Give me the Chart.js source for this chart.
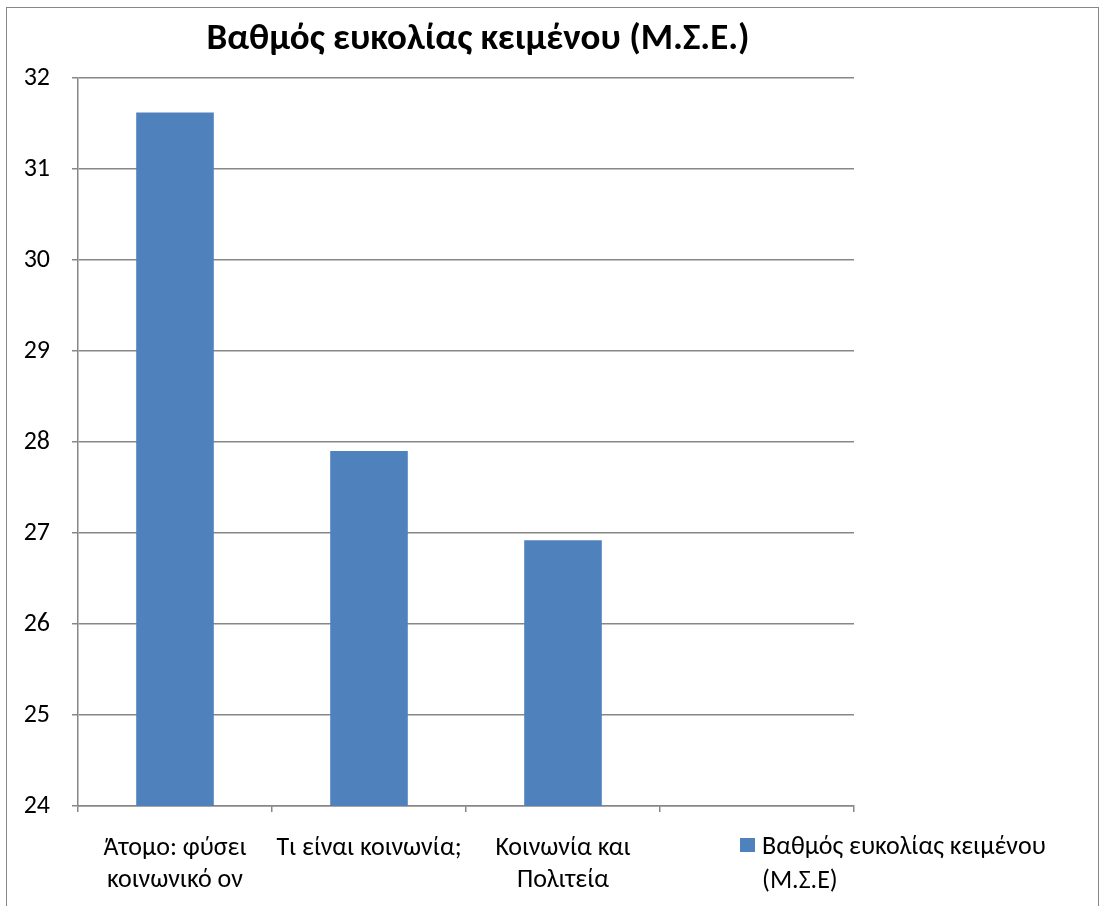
<!DOCTYPE html>
<html>
<head>
<meta charset="utf-8">
<script src="https://cdn.jsdelivr.net/npm/chart.js@4"></script>
<style>
  html, body { margin: 0; padding: 0; background: #fff; overflow: hidden; }
  #wrap { position: relative; width: 1102px; height: 906px; }
  #frame { position: absolute; left: 6px; top: 7px; width: 1091px; height: 920px; border: 1.5px solid #878787; }
  canvas { position: absolute; left: 0; top: 0; }
</style>
</head>
<body>
<div id="wrap">
  <div id="frame"></div>
  <canvas id="mse" width="1102" height="906"></canvas>
</div>
<script>
// data
const categories = [
    ['Άτομο: φύσει', 'κοινωνικό ον'],
    'Τι είναι κοινωνία;',
    ['Κοινωνία και', 'Πολιτεία'],
    ''
];
const seriesLabel = 'Βαθμός ευκολίας κειμένου (Μ.Σ.Ε)';
const legendLines = ['Βαθμός ευκολίας κειμένου', '(Μ.Σ.Ε)'];
const mseValues = [31.62, 27.9, 26.92, null];
const yMin = 24;
const yMax = 32;
const yStep = 1;

const FONT = "Carlito, 'Liberation Sans Narrow', 'Open Sans', sans-serif";
const barColor = '#4F81BD';
const lineColor = '#878787';

// legend drawn by hand so the label can wrap like in the original
const sideLegend = {
    id: 'sideLegend',
    afterDraw(chart) {
        const ctx = chart.ctx;
        const area = chart.chartArea;
        const x = area.right - 114;
        const y = area.bottom + 39;
        ctx.save();
        ctx.fillStyle = barColor;
        ctx.fillRect(x, y - 7, 15, 14);
        ctx.fillStyle = '#000';
        ctx.font = '26px ' + FONT;
        ctx.textBaseline = 'middle';
        ctx.textAlign = 'left';
        legendLines.forEach((t, i) => ctx.fillText(t, x + 22, y + 2 + i * 34));
        ctx.restore();
    }
};

new Chart(document.getElementById('mse'), {
    type: 'bar',
    data: {
        labels: categories,
        datasets: [{
            label: seriesLabel,
            data: mseValues,
            backgroundColor: barColor,
            categoryPercentage: 1,
            barPercentage: 0.4
        }]
    },
    options: {
        responsive: false,
        animation: false,
        devicePixelRatio: 1,
        layout: { padding: { left: 0, right: 146, top: 0, bottom: 0 } },
        plugins: {
            legend: { display: false },
            tooltip: { enabled: false },
            title: {
                display: true,
                text: 'Βαθμός ευκολίας κειμένου (Μ.Σ.Ε.)',
                color: '#000',
                font: { family: FONT, size: 37, weight: 'bold', lineHeight: 1.2 },
                padding: { top: 18, bottom: 15.6 }
            }
        },
        scales: {
            x: {
                grid: { drawOnChartArea: false, drawTicks: true, tickLength: 6, color: lineColor, lineWidth: 1.5 },
                border: { display: true, color: lineColor, width: 1.5 },
                ticks: { color: '#000', font: { family: FONT, size: 26, lineHeight: 1.25 }, padding: 20, maxRotation: 0, autoSkip: false },
                afterFit(scale) { scale.height = 100; }
            },
            y: {
                min: yMin,
                max: yMax,
                grid: { color: lineColor, lineWidth: 1.5, tickLength: 6 },
                border: { display: true, color: lineColor, width: 1.5 },
                ticks: { stepSize: yStep, color: '#000', font: { family: FONT, size: 26 }, padding: 22 },
                afterFit(scale) { scale.width = 78; }
            },
            // empty spacer on the right, holds room for the legend
            spacer: {
                position: 'right',
                grid: { display: false },
                border: { display: false },
                ticks: { display: false },
                afterFit(scale) { scale.width = 102; }
            }
        }
    },
    plugins: [sideLegend]
});
</script>
</body>
</html>
